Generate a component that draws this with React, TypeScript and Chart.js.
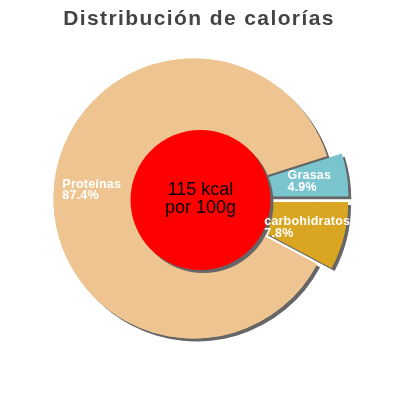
import React, { FC, useEffect, useRef } from "react";
import Chart from "chart.js/auto";

// chart values
const sliceLabels = ["Grasas", "carbohidratos", "Proteínas"];
const slicePercents = [4.9, 7.8, 87.4];
const sliceColors = ["#7AC5CD", "#DAA520", "#EEC591"];
const titleText = "Distribución de calorías";
const centerLines = ["115 kcal", "por 100g"];

const FONT = "'Liberation Sans', Arial, sans-serif";
const explode = [15, 15, 0]; // exploded slices (px)
const SHADOW = "#666666";

// draw every arc shifted out along its bisector
const drawArcs = (ctx: CanvasRenderingContext2D, meta: any) => {
  meta.data.forEach((arc: any, i: number) => {
    const mid = (arc.startAngle + arc.endAngle) / 2;
    ctx.save();
    ctx.translate(Math.cos(mid) * explode[i], Math.sin(mid) * explode[i]);
    arc.draw(ctx);
    ctx.restore();
  });
};

const pieDrawPlugin = {
  id: "pieDraw",
  beforeDatasetDraw(chart: any) {
    const ctx = chart.ctx;
    const meta = chart.getDatasetMeta(0);
    // shadow pass
    ctx.save();
    ctx.shadowColor = SHADOW;
    ctx.shadowOffsetX = 3;
    ctx.shadowOffsetY = 3;
    ctx.shadowBlur = 0;
    drawArcs(ctx, meta);
    ctx.restore();
    // real pass
    drawArcs(ctx, meta);
    return false;
  },
};

const overlayPlugin = {
  id: "overlay",
  afterDatasetsDraw(chart: any) {
    const ctx = chart.ctx;
    const meta = chart.getDatasetMeta(0);
    const first = meta.data[0];
    const cx = first.x;
    const cy = first.y;
    const R = first.outerRadius;

    // red centre disc
    ctx.save();
    ctx.shadowColor = SHADOW;
    ctx.shadowOffsetX = 3;
    ctx.shadowOffsetY = 3;
    ctx.beginPath();
    ctx.arc(cx + 7, cy + 1.5, R * 0.5, 0, Math.PI * 2);
    ctx.fillStyle = "#FF0000";
    ctx.fill();
    ctx.restore();

    ctx.save();
    ctx.fillStyle = "#000000";
    ctx.font = `18px ${FONT}`;
    ctx.textAlign = "center";
    ctx.textBaseline = "alphabetic";
    ctx.fillText(centerLines[0], cx + 7, cy - 3.5);
    ctx.fillText(centerLines[1], cx + 7, cy + 14);
    ctx.restore();

    // slice labels
    ctx.save();
    ctx.fillStyle = "#FFFFFF";
    ctx.font = `bold 12.5px ${FONT}`;
    (ctx as any).letterSpacing = "0.2px";
    ctx.textAlign = "left";
    ctx.textBaseline = "alphabetic";
    meta.data.forEach((arc: any, i: number) => {
      const mid = (arc.startAngle + arc.endAngle) / 2;
      const r = arc.outerRadius * 0.73 + explode[i];
      const lx = arc.x + Math.cos(mid) * r;
      const ly = arc.y + Math.sin(mid) * r;
      const lines = [sliceLabels[i], slicePercents[i].toFixed(1) + "%"];
      const w = Math.max(...lines.map((l) => ctx.measureText(l).width));
      ctx.fillText(lines[0], lx - w / 2, ly - 1.5);
      ctx.fillText(lines[1], lx - w / 2, ly + 10);
    });
    ctx.restore();

    // title
    ctx.save();
    ctx.fillStyle = "#444444";
    ctx.font = `bold 21px ${FONT}`;
    (ctx as any).letterSpacing = "1.4px";
    ctx.textAlign = "center";
    ctx.textBaseline = "alphabetic";
    ctx.fillText(titleText, 199, 25);
    ctx.restore();
  },
};

const App: FC = () => {
  const canvasRef = useRef<HTMLCanvasElement>(null);

  useEffect(() => {
    if (!canvasRef.current) return;
    const chart = new Chart(canvasRef.current, {
      type: "pie",
      data: {
        labels: sliceLabels,
        datasets: [
          {
            data: slicePercents,
            backgroundColor: sliceColors,
            borderWidth: 0,
            clip: false,
          } as any,
        ],
      },
      options: {
        responsive: false,
        animation: false,
        rotation: 72.36,
        radius: 140,
        layout: { padding: { left: 10, right: 23, top: 20, bottom: 23 } },
        plugins: {
          legend: { display: false },
          tooltip: { enabled: false },
          title: { display: false },
        },
      },
      plugins: [pieDrawPlugin, overlayPlugin],
    });

    return () => {
      chart.destroy();
    };
  }, []);

  return (
    <div style={{ position: "absolute", left: 0, top: 0, width: 400, height: 400, background: "#fff" }}>
      <canvas ref={canvasRef} width={400} height={400} style={{ width: 400, height: 400 }}></canvas>
    </div>
  );
};

export default App;
